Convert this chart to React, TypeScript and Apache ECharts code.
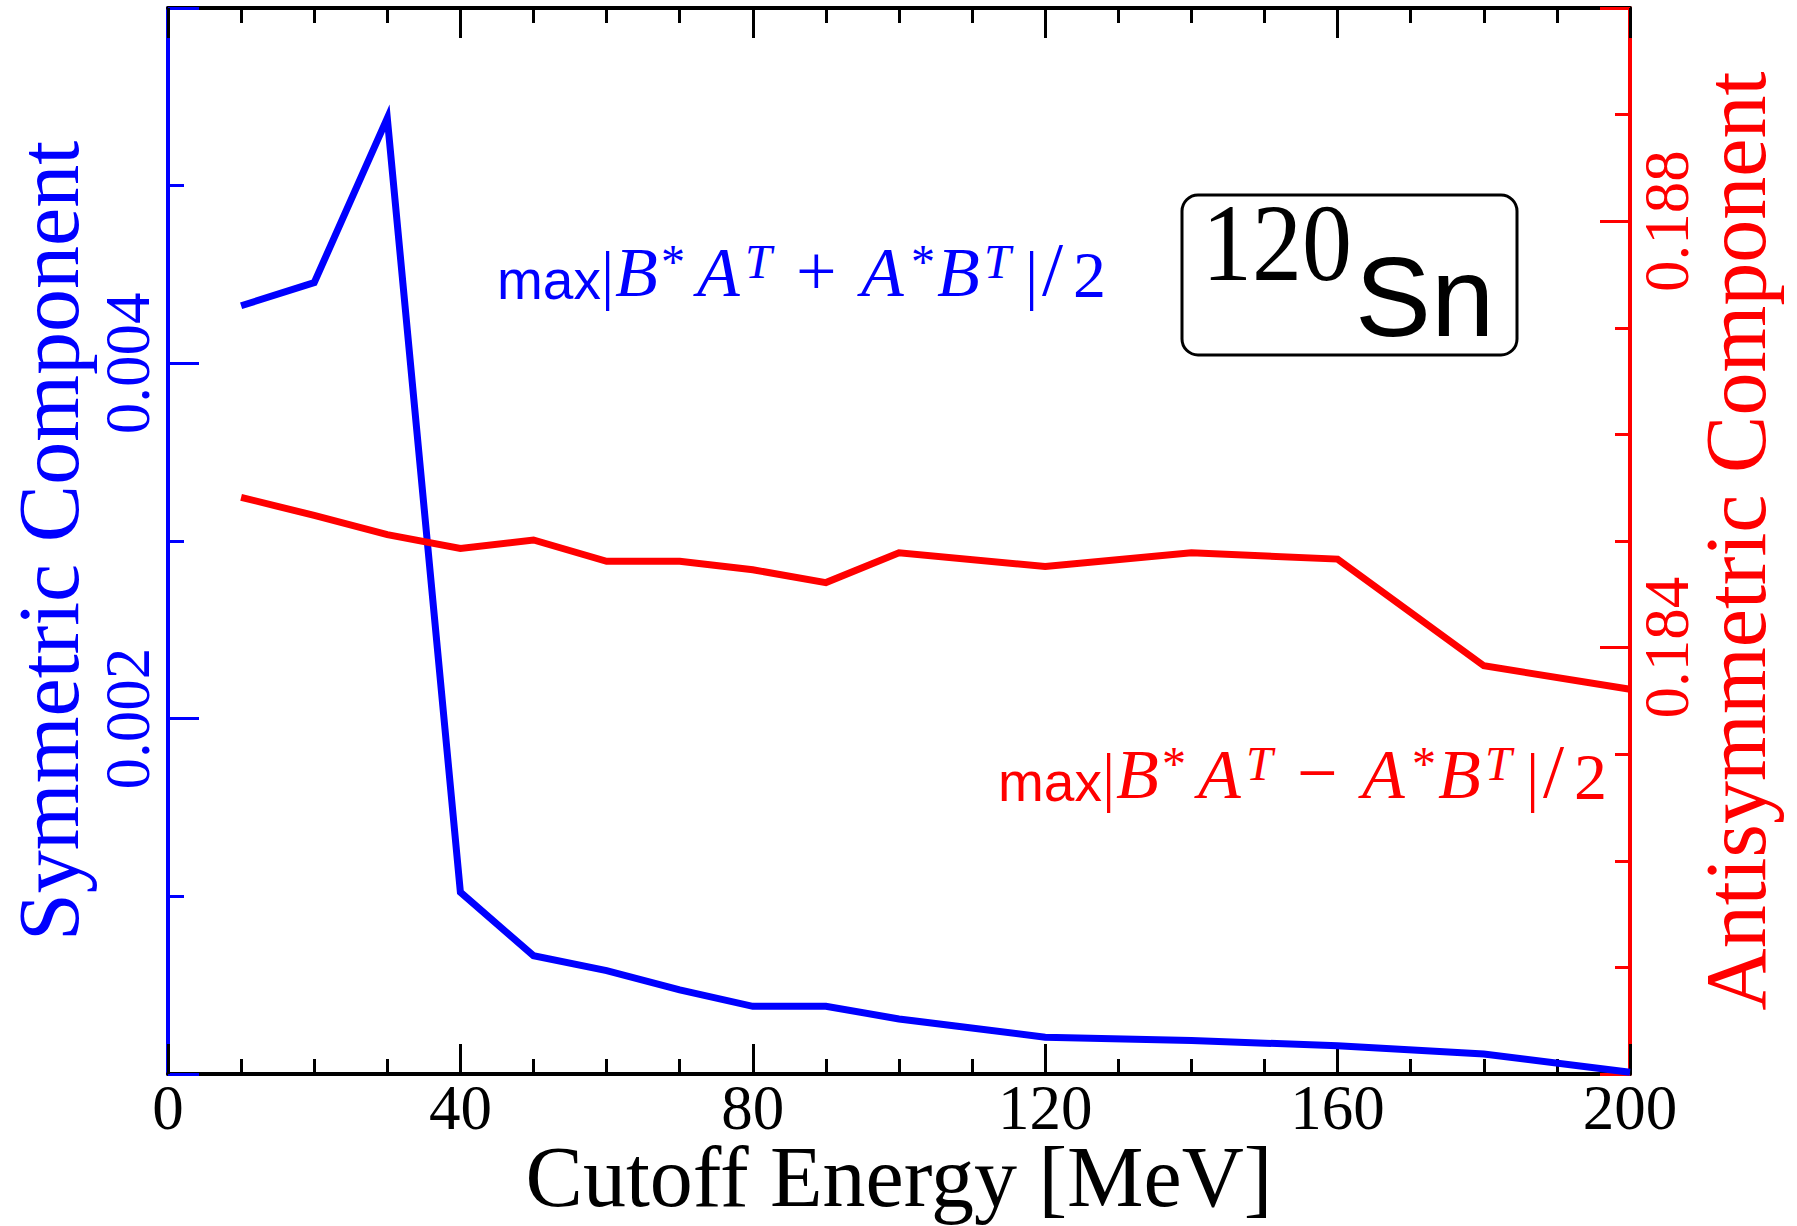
import React, { useEffect, useRef } from 'react';
import * as echarts from 'echarts';

// ---- data ----
const symX = [10, 20, 30, 40, 50, 60, 70, 80, 90, 100, 120, 140, 160, 180, 200];
const symValues = [0.004324, 0.004454, 0.00538, 0.001023, 0.000666, 0.000582, 0.000473, 0.000381, 0.000381, 0.00031, 0.000207, 0.000188, 0.000159, 0.000113, 0.00001];
const antiX = [10, 20, 30, 40, 50, 60, 70, 80, 90, 100, 120, 140, 160, 180, 200];
const antiValues = [0.18541, 0.18524, 0.18506, 0.18493, 0.18501, 0.18481, 0.18481, 0.18473, 0.18461, 0.18489, 0.18476, 0.18489, 0.18483, 0.18383, 0.18361];
const xTickLabels = ['0', '40', '80', '120', '160', '200'];
const leftTickLabels = ['0.002', '0.004'];
const rightTickLabels = ['0.184', '0.188'];

const xTitle = 'Cutoff Energy [MeV]';
const leftTitle = 'Symmetric Component';
const rightTitle = 'Antisymmetric Component';
const isotopeMass = '120';
const isotopeSymbol = 'Sn';

const SERIF = '"Liberation Serif", "Times New Roman", serif';
const SANS = '"Liberation Sans", Arial, sans-serif';
const BLUE = '#0000ff';
const RED = '#ff0000';

type Tok = { t: string; s: string; w: number; pl?: number };
const mathTokens = (op: string): Tok[] => [
  { t: 'max', s: 'sans', w: 104 },
  { t: '|', s: 'up', w: 14 },
  { t: 'B', s: 'it', w: 46 },
  { t: '*', s: 'sup', w: 36 },
  { t: 'A', s: 'it', w: 48 },
  { t: 'T', s: 'supit', w: 48 },
  { t: op, s: 'op', w: 65, pl: 3 },
  { t: 'A', s: 'it', w: 50 },
  { t: '*', s: 'sup', w: 26 },
  { t: 'B', s: 'it', w: 47 },
  { t: 'T', s: 'supit', w: 41 },
  { t: '|', s: 'up', w: 14 },
  { t: '/', s: 'slash', w: 31, pl: 3 },
  { t: '2', s: 'up', w: 36 },
];

function buildRich(tokens: Tok[], color: string) {
  const base: Record<string, any> = {
    sans: { fontFamily: SANS, fontSize: 55, lineHeight: 64, verticalAlign: 'bottom' },
    up: { fontFamily: SERIF, fontSize: 66, lineHeight: 70, verticalAlign: 'bottom' },
    slash: { fontFamily: SERIF, fontSize: 76, lineHeight: 70, verticalAlign: 'bottom' },
    op: { fontFamily: SERIF, fontSize: 72, lineHeight: 70, verticalAlign: 'bottom' },
    it: { fontFamily: SERIF, fontStyle: 'italic', fontSize: 70, lineHeight: 70, verticalAlign: 'bottom' },
    sup: { fontFamily: SERIF, fontSize: 48, lineHeight: 36, verticalAlign: 'top' },
    supit: { fontFamily: SERIF, fontStyle: 'italic', fontSize: 48, lineHeight: 36, verticalAlign: 'top' },
  };
  const rich: Record<string, any> = {};
  const parts: string[] = [];
  tokens.forEach((tk, i) => {
    const key = 'k' + i;
    rich[key] = { ...base[tk.s], width: tk.w, fill: color, color, padding: [0, 0, 0, tk.pl || 0] };
    parts.push('{' + key + '|' + tk.t + '}');
  });
  return { text: parts.join(''), rich };
}

export default function App() {
  const ref = useRef<HTMLDivElement>(null);
  useEffect(() => {
    if (!ref.current) return;
    const chart = echarts.init(ref.current, null, { renderer: 'svg' });
    const blueMath = buildRich(mathTokens('+'), BLUE);
    const redMath = buildRich(mathTokens('\u2212'), RED);
    const fmt = (v: number) => (Math.round(v * 1000) / 1000).toFixed(3);

    const xCommon: any = {
      type: 'value',
      min: 0,
      max: 200,
      interval: 40,
      splitLine: { show: false },
      axisTick: { show: true, inside: true, length: 30, lineStyle: { color: '#000', width: 3 } },
      minorTick: { show: true, splitNumber: 4, length: 15, lineStyle: { color: '#000', width: 3 } },
      axisLine: { show: true, onZero: false, lineStyle: { color: '#000', width: 4 } },
    };

    const option: any = {
      animation: false,
      backgroundColor: '#ffffff',
      grid: { left: 168, right: 167, top: 8, bottom: 152, containLabel: false, outerBoundsMode: 'none' },
      xAxis: [
        {
          ...xCommon,
          position: 'bottom',
          axisLabel: {
            show: true,
            margin: 2,
            fontSize: 63,
            fontFamily: SERIF,
            color: '#000',
            showMinLabel: true,
            showMaxLabel: true,
            formatter: (v: number) => (xTickLabels.includes(String(v)) ? String(v) : ''),
          },
          name: xTitle,
          nameLocation: 'middle',
          nameGap: 60,
          nameMoveOverlap: false,
          nameTextStyle: { fontSize: 86, lineHeight: 86, fontFamily: SERIF, color: '#000' },
        },
        {
          ...xCommon,
          position: 'top',
          axisLabel: { show: false },
        },
      ],
      yAxis: [
        {
          type: 'value',
          position: 'left',
          min: 0,
          max: 0.006,
          interval: 0.002,
          splitLine: { show: false },
          axisLine: { show: true, onZero: false, lineStyle: { color: BLUE, width: 4 } },
          axisTick: { show: true, inside: true, length: 31, lineStyle: { color: BLUE, width: 3 } },
          minorTick: { show: true, splitNumber: 2, length: 16, lineStyle: { color: BLUE, width: 3 } },
          axisLabel: {
            show: true,
            rotate: 90,
            margin: 9,
            fontSize: 63,
            fontFamily: SERIF,
            color: BLUE,
            formatter: (v: number) => (leftTickLabels.includes(fmt(v)) ? fmt(v) : ''),
          },
          name: leftTitle,
          nameLocation: 'middle',
          nameGap: 86,
          nameMoveOverlap: false,
          nameTextStyle: { fontSize: 86, lineHeight: 66, fontFamily: SERIF, color: BLUE },
        },
        {
          type: 'value',
          position: 'right',
          min: 0.18,
          max: 0.19,
          interval: 0.004,
          splitLine: { show: false },
          axisLine: { show: true, onZero: false, lineStyle: { color: RED, width: 4 } },
          axisTick: { show: true, inside: true, length: 30, lineStyle: { color: RED, width: 3 } },
          axisLabel: {
            show: true,
            rotate: 90,
            margin: 5,
            fontSize: 63,
            fontFamily: SERIF,
            color: RED,
            formatter: (v: number) => (rightTickLabels.includes(fmt(v)) ? fmt(v) : ''),
          },
          name: rightTitle,
          nameLocation: 'middle',
          nameGap: 63,
          nameMoveOverlap: false,
          nameTextStyle: { fontSize: 86, lineHeight: 86, fontFamily: SERIF, color: RED },
        },
        {
          type: 'value',
          position: 'right',
          min: 0.18,
          max: 0.19,
          interval: 0.001,
          splitLine: { show: false },
          axisLine: { show: false, onZero: false },
          axisTick: { show: true, inside: true, length: 15, lineStyle: { color: RED, width: 3 } },
          axisLabel: { show: false },
        },
      ],
      series: [
        {
          type: 'line',
          name: 'symmetric',
          xAxisIndex: 0,
          yAxisIndex: 0,
          data: symX.map((x, i) => [x, symValues[i]]),
          symbol: 'none',
          showSymbol: false,
          clip: false,
          lineStyle: { color: BLUE, width: 7, join: 'miter', cap: 'butt' },
          itemStyle: { color: BLUE },
          z: 3,
        },
        {
          type: 'line',
          name: 'antisymmetric',
          xAxisIndex: 0,
          yAxisIndex: 1,
          data: antiX.map((x, i) => [x, antiValues[i]]),
          symbol: 'none',
          showSymbol: false,
          clip: false,
          lineStyle: { color: RED, width: 7, join: 'miter', cap: 'butt' },
          itemStyle: { color: RED },
          z: 3,
        },
      ],
      graphic: [
        {
          type: 'text',
          x: 497,
          y: 237,
          style: { text: blueMath.text, rich: blueMath.rich, fill: BLUE, align: 'left', verticalAlign: 'top' },
        },
        {
          type: 'text',
          x: 998,
          y: 739,
          style: { text: redMath.text, rich: redMath.rich, fill: RED, align: 'left', verticalAlign: 'top' },
        },
        {
          type: 'rect',
          shape: { x: 1182, y: 195, width: 335, height: 160, r: 16 },
          style: { fill: 'none', stroke: '#000', lineWidth: 3 },
        },
        {
          type: 'text',
          x: 1277,
          y: 243,
          scaleY: 1.1,
          style: {
            text: isotopeMass,
            fontFamily: SERIF,
            fontSize: 100,
            fill: '#000',
            align: 'center',
            verticalAlign: 'middle',
          },
        },
        {
          type: 'text',
          x: 1355,
          y: 296,
          style: {
            text: isotopeSymbol,
            fontFamily: SANS,
            fontSize: 114,
            fill: '#000',
            align: 'left',
            verticalAlign: 'middle',
          },
        },
      ],
    };
    chart.setOption(option);
    return () => chart.dispose();
  }, []);
  return (
    <div
      ref={ref}
      style={{ position: 'fixed', left: 0, top: 0, width: 1797, height: 1226, background: '#fff' }}
    />
  );
}
